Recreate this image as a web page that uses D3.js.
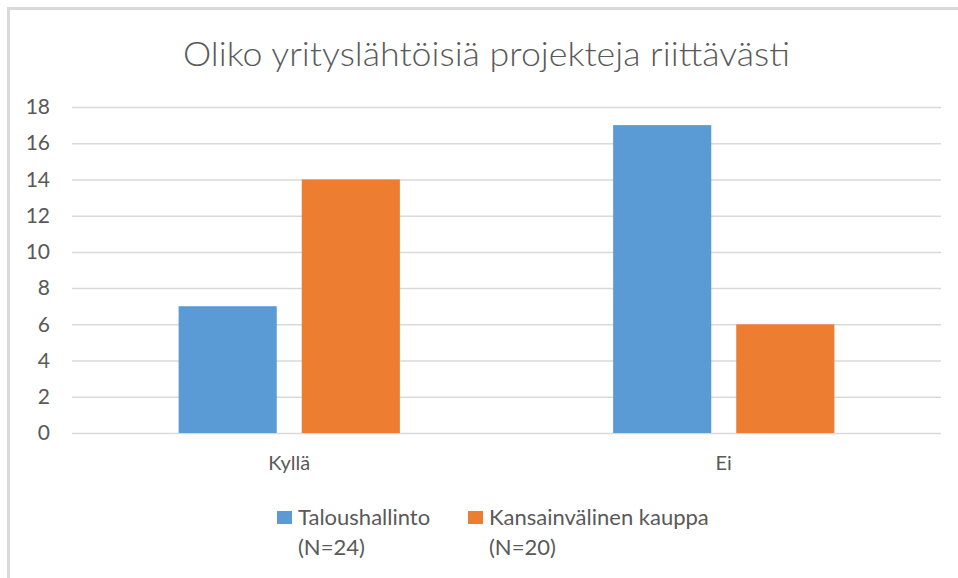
<!DOCTYPE html>
<html>
<head>
<meta charset="utf-8">
<script src="https://cdn.jsdelivr.net/npm/d3@7"></script>
<style>
  html, body { margin: 0; padding: 0; background: #fff; }
  svg { display: block; }
  text { font-family: Lato, "Open Sans", "DejaVu Sans", sans-serif; fill: #595959; }
</style>
</head>
<body>
<svg id="chart" width="958" height="578"></svg>
<script>
const title = "Oliko yrityslähtöisiä projekteja riittävästi";
const categories = ["Kyllä", "Ei"];
const seriesNames = ["Taloushallinto", "Kansainvälinen kauppa"];
const seriesSubLabels = ["(N=24)", "(N=20)"];
const taloushallinto = [7, 17];
const kansainvalinen = [14, 6];
const yTicks = [0, 2, 4, 6, 8, 10, 12, 14, 16, 18];
const colors = ["#5B9BD5", "#ED7D31"];

const seriesValues = [taloushallinto, kansainvalinen];
const data = categories.map((c, i) => ({
  category: c,
  values: seriesNames.map((s, j) => ({ series: s, idx: j, value: seriesValues[j][i] }))
}));

const svg = d3.select("#chart");
const W = 958, H = 578;
const plot = { left: 72, right: 941, top: 107, bottom: 433 };

// frame (top and left borders)
svg.append("line").attr("x1", 7).attr("x2", W).attr("y1", 8.5).attr("y2", 8.5)
  .attr("stroke", "#d9d9d9").attr("stroke-width", 3);
svg.append("line").attr("x1", 8.5).attr("x2", 8.5).attr("y1", 7).attr("y2", H)
  .attr("stroke", "#d9d9d9").attr("stroke-width", 3);

// title
svg.append("text").attr("x", 183).attr("y", 66)
  .attr("textLength", 607).attr("lengthAdjust", "spacingAndGlyphs")
  .style("font-size", "33px").style("font-weight", 300)
  .text(title);

const y = d3.scaleLinear().domain([0, 18]).range([plot.bottom, plot.top]);
const x0 = d3.scaleBand().domain(categories).range([plot.left, plot.right]).padding(0);
const x1 = d3.scaleBand().domain(seriesNames).range([0, x0.bandwidth()])
  .paddingInner(0.203).paddingOuter(0.866);

// y axis with gridlines
const yAxis = svg.append("g").attr("transform", `translate(${plot.left},0)`)
  .call(d3.axisLeft(y).tickValues(yTicks).tickSize(-(plot.right - plot.left)).tickPadding(22));
yAxis.select(".domain").remove();
yAxis.selectAll(".tick line").attr("stroke", "#d9d9d9").attr("stroke-width", 1.5);
yAxis.selectAll(".tick text").style("font-size", "21px").style("fill", "#595959");

// bars
const groups = svg.append("g").selectAll("g").data(data).join("g")
  .attr("transform", d => `translate(${x0(d.category)},0)`);
groups.selectAll("rect").data(d => d.values).join("rect")
  .attr("x", d => x1(d.series))
  .attr("width", x1.bandwidth())
  .attr("y", d => y(d.value))
  .attr("height", d => y(0) - y(d.value))
  .attr("fill", d => colors[d.idx]);

// x axis labels
const xAxis = svg.append("g").attr("transform", `translate(0,${plot.bottom})`)
  .call(d3.axisBottom(x0).tickSize(0).tickPadding(23));
xAxis.select(".domain").remove();
xAxis.selectAll(".tick text").style("font-size", "20px").style("fill", "#595959");

// legend
const legendX = [277, 468];
const legend = svg.append("g").selectAll("g").data(seriesNames).join("g")
  .attr("transform", (d, i) => `translate(${legendX[i]},0)`);
legend.append("rect").attr("x", 0).attr("y", 511).attr("width", 15).attr("height", 13)
  .attr("fill", (d, i) => colors[i]);
legend.append("text").attr("x", 21).attr("y", 525).style("font-size", "22px").text(d => d);
legend.append("text").attr("x", 21).attr("y", 555).style("font-size", "22px")
  .text((d, i) => seriesSubLabels[i]);
</script>
</body>
</html>
